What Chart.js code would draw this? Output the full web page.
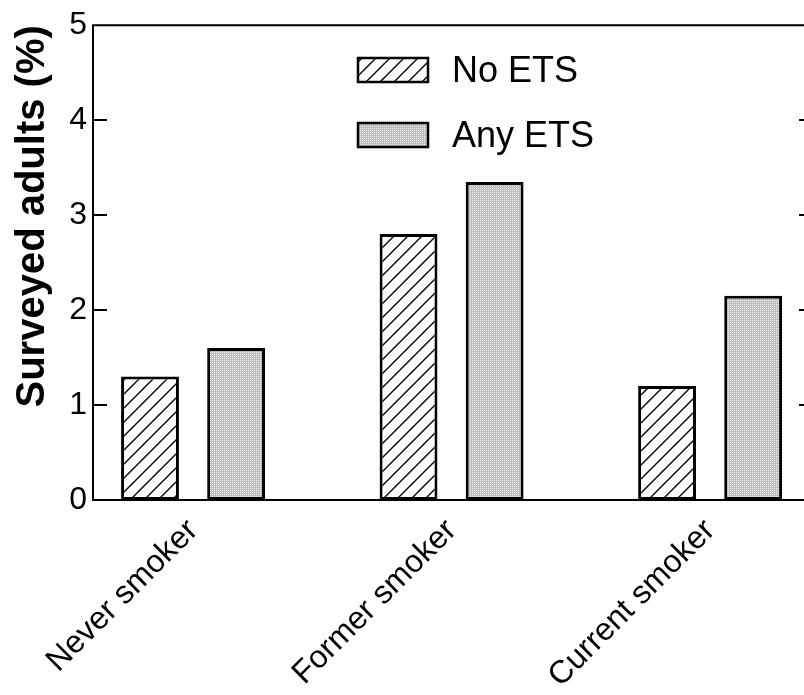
<!DOCTYPE html>
<html>
<head>
<meta charset="utf-8">
<script src="https://cdn.jsdelivr.net/npm/chart.js@4/dist/chart.umd.min.js"></script>
<style>
  html, body { margin: 0; padding: 0; background: #fff; overflow: hidden; }
  canvas { display: block; }
</style>
</head>
<body>
<canvas id="c" width="830" height="695"></canvas>
<script>
// Share of surveyed adults by smoking status and ETS exposure
const categories = ['Never smoker', 'Former smoker', 'Current smoker'];
const seriesNames = ['No ETS', 'Any ETS'];
const noEts = [1.3, 2.8, 1.2];
const anyEts = [1.6, 3.35, 2.15];
const yTickValues = [0, 1, 2, 3, 4, 5];

const FONT = "'Liberation Sans', Arial, Helvetica, sans-serif";
const canvas = document.getElementById('c');
const ctx = canvas.getContext('2d');

// Diagonal "/" hatch fill
function makeHatch() {
  const s = 14;
  const t = document.createElement('canvas');
  t.width = s; t.height = s;
  const g = t.getContext('2d');
  g.fillStyle = '#fff';
  g.fillRect(0, 0, s, s);
  g.strokeStyle = '#000';
  g.lineWidth = 1.4;
  g.beginPath();
  g.moveTo(-2, s + 2); g.lineTo(s + 2, -2);
  g.moveTo(-2, 2); g.lineTo(2, -2);
  g.moveTo(s - 2, s + 2); g.lineTo(s + 2, s - 2);
  g.stroke();
  return ctx.createPattern(t, 'repeat');
}

// Fine grey stipple fill
function makeStipple() {
  const t = document.createElement('canvas');
  t.width = 2; t.height = 2;
  const g = t.getContext('2d');
  g.fillStyle = '#bdbdbd';
  g.fillRect(0, 0, 2, 2);
  g.fillStyle = '#f2f2f2';
  g.fillRect(0, 0, 1, 1);
  return ctx.createPattern(t, 'repeat');
}

const hatch = makeHatch();
const stipple = makeStipple();

// Frame, inward tick marks and legend
const framePlugin = {
  id: 'frame',
  afterDraw(chart) {
    const { ctx, chartArea: a, scales } = chart;
    const y = scales.y;
    ctx.save();
    ctx.strokeStyle = '#000';
    ctx.lineWidth = 2;
    ctx.beginPath();
    ctx.rect(a.left, a.top, a.right - a.left, a.bottom - a.top);
    ctx.stroke();
    ctx.beginPath();
    y.ticks.forEach(t => {
      if (t.value <= y.min || t.value >= y.max) return;
      const py = Math.round(y.getPixelForValue(t.value));
      ctx.moveTo(a.left, py); ctx.lineTo(a.left + 14, py);
      ctx.moveTo(a.right, py); ctx.lineTo(a.right - 14, py);
    });
    ctx.stroke();

    // legend
    const bx = 358, bw = 70, bh = 24;
    const rows = [58, 123];
    chart.data.datasets.forEach((ds, i) => {
      const by = rows[i];
      ctx.fillStyle = ds.backgroundColor;
      ctx.fillRect(bx, by, bw, bh);
      ctx.lineWidth = 2.5;
      ctx.strokeStyle = '#000';
      ctx.strokeRect(bx, by, bw, bh);
      ctx.fillStyle = '#000';
      ctx.font = '36px ' + FONT;
      ctx.textAlign = 'left';
      ctx.textBaseline = 'alphabetic';
      ctx.fillText(ds.label, 452, by + bh);
    });
    ctx.restore();
  }
};

const toPoints = arr => arr.map((v, i) => ({ x: i + 1, y: v }));

new Chart(ctx, {
  type: 'bar',
  data: {
    datasets: [
      {
        label: seriesNames[0],
        data: toPoints(noEts),
        backgroundColor: hatch,
        borderColor: '#000',
        borderWidth: 3,
        borderSkipped: false
      },
      {
        label: seriesNames[1],
        data: toPoints(anyEts),
        backgroundColor: stipple,
        borderColor: '#000',
        borderWidth: 3,
        borderSkipped: false
      }
    ]
  },
  options: {
    responsive: false,
    devicePixelRatio: 1,
    animation: false,
    categoryPercentage: 0.666,
    barPercentage: 0.672,
    layout: { padding: { top: 20, right: 17, left: 0, bottom: 0 } },
    plugins: {
      legend: { display: false },
      tooltip: { enabled: false }
    },
    scales: {
      x: {
        type: 'linear',
        offset: false,
        min: 0.613,
        max: 3.398,
        grid: { display: false, drawTicks: false, offset: false },
        border: { display: false },
        afterBuildTicks: s => { s.ticks = categories.map((_, i) => ({ value: i + 1 })); },
        afterFit: s => { s.height = 195; },
        ticks: {
          autoSkip: false,
          maxRotation: 45,
          minRotation: 45,
          padding: 12,
          color: '#000',
          font: { family: FONT, size: 32 },
          callback: v => categories[v - 1]
        }
      },
      y: {
        min: 0,
        max: 5,
        grid: { display: false, drawTicks: false },
        border: { display: false },
        afterBuildTicks: s => { s.ticks = yTickValues.map(v => ({ value: v })); },
        afterFit: s => { s.width = 93; },
        ticks: {
          padding: 6,
          color: '#000',
          font: { family: FONT, size: 32 }
        },
        title: {
          display: true,
          text: 'Surveyed adults (%)',
          align: 'end',
          color: '#000',
          font: { family: FONT, size: 40, weight: 'bold' },
          padding: { top: 9, bottom: 0 }
        }
      }
    }
  },
  plugins: [framePlugin]
});
</script>
</body>
</html>
